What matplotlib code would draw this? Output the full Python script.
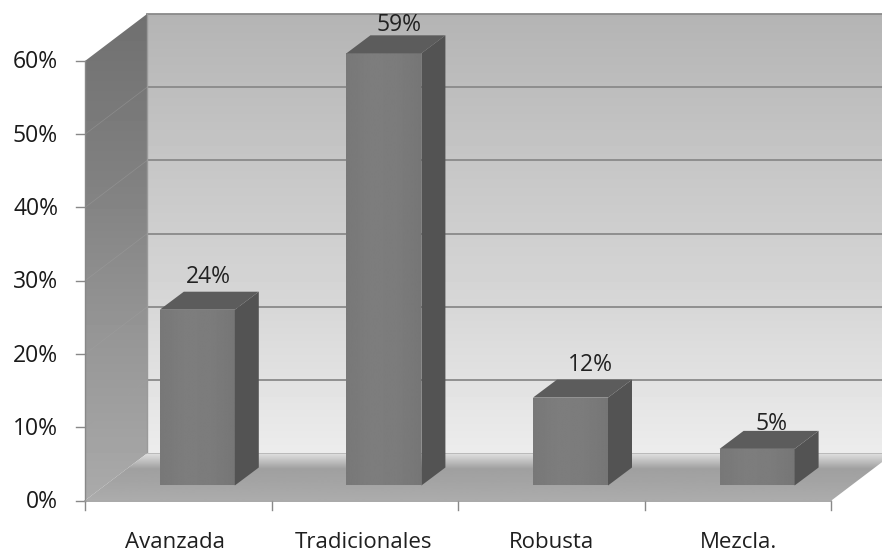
import matplotlib
matplotlib.use("Agg")
import matplotlib.pyplot as plt
import numpy as np
from matplotlib.patches import Polygon

plt.rcParams["font.family"] = ["Open Sans", "DejaVu Sans"]

categorias = ["Avanzada", "Tradicionales", "Robusta", "Mezcla."]
valores = [24, 59, 12, 5]
etiquetas = ["24%", "59%", "12%", "5%"]
ticks_y = [0, 10, 20, 30, 40, 50, 60]

# escala en pixeles de la referencia
W, H = 882, 554
X0, CAT_W = 85.0, 186.6
Y0, PCT_H = 500.5, 7.325
# profundidad del "3D", en unidades de datos
DX, DY = 62 / CAT_W, 47 / PCT_H
BASE_X, BASE_Y = 19 / CAT_W, 15 / PCT_H
BAR_DX, BAR_DY = 24 / CAT_W, 18 / PCT_H
BAR_W = 75 / CAT_W
# ajuste de cada etiqueta, en pixeles
AJUSTE_X = [11, 15, 20, 14]
AJUSTE_Y = [3, -2, 3, -5]
AJUSTE_CAT = [-3, -1, 0, 0]

fig = plt.figure(figsize=(W / 100, H / 100), dpi=100)
ax = fig.add_axes([0, 0, 1, 1])
ax.set_xlim(-X0 / CAT_W, (W - X0) / CAT_W)
ax.set_ylim((Y0 - H) / PCT_H, Y0 / PCT_H)
ax.axis("off")

n = len(categorias)
ymax = ticks_y[-1]


def degradado(puntos, colores, horizontal=False, z=1):
    # rellena un poligono con un degradado de grises
    pts = np.array(puntos)
    x0, x1 = pts[:, 0].min(), pts[:, 0].max()
    y0, y1 = pts[:, 1].min(), pts[:, 1].max()
    g = np.interp(np.linspace(0, 1, 128), np.linspace(0, 1, len(colores)), colores)
    img = g[None, :] if horizontal else g[:, None]
    im = ax.imshow(img, extent=(x0, x1, y0, y1), origin="upper", cmap="gray",
                   vmin=0, vmax=255, aspect="auto", zorder=z, interpolation="bilinear")
    poly = Polygon(puntos, closed=True, transform=ax.transData, facecolor="none", edgecolor="none")
    ax.add_patch(poly)
    im.set_clip_path(poly)


# pared de fondo
fondo = [(DX, DY), (n + DX, DY), (n + DX, ymax + DY), (DX, ymax + DY)]
degradado(fondo, [180, 198, 215, 236])
for t in ticks_y:
    ax.plot([DX, n + DX], [t + DY, t + DY], color="#8a8a8a", lw=1.3, zorder=2)

# pared izquierda
lateral = [(0, 0), (DX, DY), (DX, ymax + DY), (0, ymax)]
degradado(lateral, [112, 128, 150, 170], z=3)
for t in ticks_y[1:-1]:
    ax.plot([0, DX], [t, t + DY], color="#a0a0a0", lw=0.5, alpha=0.5, zorder=3.5)
ax.plot([DX, DX], [DY, ymax + DY], color="#9a9a9a", lw=1, zorder=3.5)

# piso
piso = [(0, 0), (DX, DY), (n + DX, DY), (n, 0)]
degradado(piso, [225, 160, 165, 172], z=4)
ax.plot([0, n], [0, 0], color="#999999", lw=1.2, zorder=4.5)

# barras
for i, v in enumerate(valores):
    x0 = i + 0.5 - BAR_W / 2 + BASE_X
    x1 = x0 + BAR_W
    y0 = BASE_Y
    y1 = v + BASE_Y
    frente = [(x0, y0), (x1, y0), (x1, y1), (x0, y1)]
    lado = [(x1, y0), (x1 + BAR_DX, y0 + BAR_DY), (x1 + BAR_DX, y1 + BAR_DY), (x1, y1)]
    tapa = [(x0, y1), (x1, y1), (x1 + BAR_DX, y1 + BAR_DY), (x0 + BAR_DX, y1 + BAR_DY)]
    degradado(frente, [120, 125, 124, 118], horizontal=True, z=5)
    ax.add_patch(Polygon(lado, closed=True, facecolor="#535353", edgecolor="none", zorder=5))
    ax.add_patch(Polygon(tapa, closed=True, facecolor="#5c5c5c", edgecolor="none", zorder=5))
    ax.text(x0 + BAR_W / 2 + AJUSTE_X[i] / CAT_W, y1 + BAR_DY + AJUSTE_Y[i] / PCT_H, etiquetas[i],
            ha="center", va="bottom", fontsize=16.5, color="#222222", zorder=6)

# ejes y etiquetas
for t in ticks_y:
    ax.plot([-9 / CAT_W, 0], [t, t], color="#888888", lw=1, zorder=4)
    ax.text(-27 / CAT_W, t - 1.5 / PCT_H, f"{t}%", ha="right", va="center", fontsize=16.5,
            color="#1a1a1a", zorder=6)
ax.plot([0, 0], [0, ymax], color="#888888", lw=1, zorder=4)
for i in range(n + 1):
    ax.plot([i, i], [0, -9 / PCT_H], color="#888888", lw=1, zorder=4)
for i, c in enumerate(categorias):
    ax.text(i + 0.5 + AJUSTE_CAT[i] / CAT_W, -42.5 / PCT_H, c, ha="center", va="center", fontsize=16,
            color="#1f1f1f", zorder=6)

fig.savefig("out.png", dpi=100)
